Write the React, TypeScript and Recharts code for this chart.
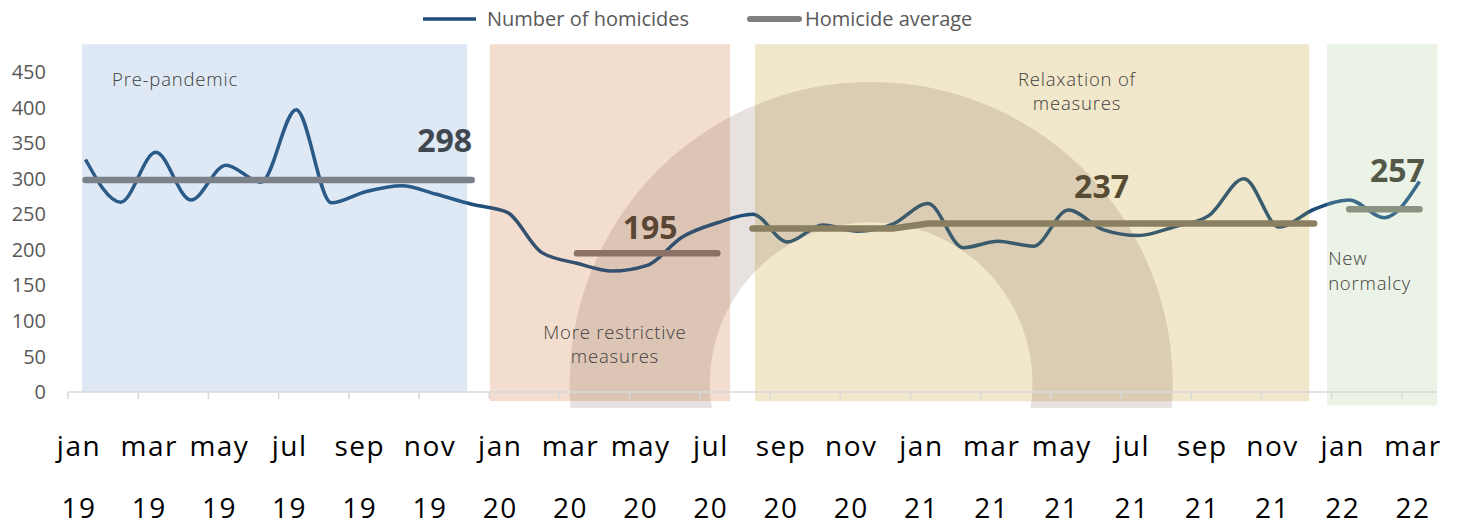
import React from "react";
import { LineChart, Line, XAxis, YAxis, ReferenceArea } from "recharts";

const months = [
  "jan 19", "feb 19", "mar 19", "apr 19", "may 19", "jun 19", "jul 19", "aug 19", "sep 19", "oct 19", "nov 19", "dec 19",
  "jan 20", "feb 20", "mar 20", "apr 20", "may 20", "jun 20", "jul 20", "aug 20", "sep 20", "oct 20", "nov 20", "dec 20",
  "jan 21", "feb 21", "mar 21", "apr 21", "may 21", "jun 21", "jul 21", "aug 21", "sep 21", "oct 21", "nov 21", "dec 21",
  "jan 22", "feb 22", "mar 22",
];

const homicides = [
  327, 267, 337, 270, 319, 295, 397, 266, 282, 290, 278, 264,
  253, 196, 181, 170, 178, 218, 238, 250, 211, 235, 226, 236,
  265, 203, 212, 205, 256, 228, 220, 232, 248, 300, 232, 257,
  270, 245, 296,
];

// homicide averages per period, with the month index where each starts
const avgPrePandemic = [298, 298, 298, 298, 298, 298, 298, 298, 298, 298, 298, 298];
const avgPrePandemicStart = 0;
const avgRestrictive = [195, 195, 195, 195, 195];
const avgRestrictiveStart = 14;
const avgRelaxation = [230, 230, 230, 230, 230, 237, 237, 237, 237, 237, 237, 237, 237, 237, 237, 237, 237];
const avgRelaxationStart = 19;
const avgNewNormal = [257, 257, 257];
const avgNewNormalStart = 36;

const yTicks = [0, 50, 100, 150, 200, 250, 300, 350, 400, 450];

// shaded periods, in month-index units
const bands = [
  { key: "pre", from: -0.1, to: 10.87, bottom: 0, fill: "#dee9f5", stroke: "#295a88" },
  { key: "restrictive", from: 11.52, to: 18.36, bottom: -12.7, fill: "#f3ddce", stroke: "#33506f" },
  { key: "relax", from: 19.07, to: 34.86, bottom: -13, fill: "#f1e7ca", stroke: "#3a5b6b" },
  { key: "new", from: 35.37, to: 38.51, bottom: -19, fill: "#ebf3e6", stroke: "#3b6a8b" },
];
const bandTop = 489;

const withOffset = (arr: number[], start: number, i: number) =>
  i >= start && i < start + arr.length ? arr[i - start] : null;

const data = months.map((m, i) => ({
  idx: i,
  month: m,
  homicides: homicides[i],
  avgPre: withOffset(avgPrePandemic, avgPrePandemicStart, i),
  avgRestr: withOffset(avgRestrictive, avgRestrictiveStart, i),
  avgRelax: withOffset(avgRelaxation, avgRelaxationStart, i),
  avgNew: withOffset(avgNewNormal, avgNewNormalStart, i),
}));

const xTicks = months.map((_, i) => i).filter((i) => i % 2 === 0).map((i) => i - 0.5);

const lastIdx = months.length - 1;

const MonthTick = (props: any) => {
  const { x, y, payload } = props;
  const label = months[Math.round(payload.value + 0.5)] || "";
  const [mon, yr] = label.split(" ");
  const style = { fontFamily: '"Open Sans", sans-serif', fontSize: 28, letterSpacing: 1.5 };
  return (
    <g>
      <text x={x + 11} y={y + 57} textAnchor="middle" fill="#000" style={style}>
        {mon}
      </text>
      <text x={x + 11} y={y + 119} textAnchor="middle" fill="#000" style={style}>
        {yr}
      </text>
    </g>
  );
};

const avgLabel = (at: number, text: string, color: string, dx: number, dy: number) => (props: any) => {
  if (props.index !== at) return null;
  return (
    <text
      key={"lbl" + at}
      x={props.x + dx}
      y={props.y + dy}
      textAnchor="middle"
      fill={color}
      style={{ fontFamily: '"Open Sans", sans-serif', fontSize: 32, fontWeight: 700 }}
    >
      {text}
    </text>
  );
};

const bandText: Record<string, { lines: string[]; anchor: string; dx: number; dy: number[] }> = {
  pre: { lines: ["Pre-pandemic"], anchor: "start", dx: 30, dy: [42] },
  restrictive: { lines: ["More restrictive", "measures"], anchor: "middle", dx: 125, dy: [295, 319] },
  relax: { lines: ["Relaxation of", "measures"], anchor: "middle", dx: 322, dy: [42, 66] },
  new: { lines: ["New", "normalcy"], anchor: "start", dx: 1, dy: [221, 246] },
};

// decorative half ring behind the series
const RingShape = (p: any) => {
  const { x, y, width, height } = p;
  const R = width / 2;
  const r = R * 0.535;
  const cx = x + R;
  const cy = y + R;
  const bottom = y + height;
  const d = bottom - cy;
  const ox = Math.sqrt(Math.max(R * R - d * d, 0));
  const ix = Math.sqrt(Math.max(r * r - d * d, 0));
  const path = `M ${cx - ox} ${bottom} A ${R} ${R} 0 1 1 ${cx + ox} ${bottom} L ${cx + ix} ${bottom} A ${r} ${r} 0 1 0 ${cx - ix} ${bottom} Z`;
  return <path d={path} fill="#7a5a50" fillOpacity={0.18} />;
};

export default function App() {
  return (
    <div style={{ position: "relative", width: 1457, height: 517, fontFamily: '"Open Sans", sans-serif' }}>
      <LineChart width={1457} height={517} data={data} margin={{ top: 64, right: 28, bottom: 0, left: 0 }}>
        <defs>
          <linearGradient id="homicideStroke" x1="0" y1="0" x2="1" y2="0">
            {bands.flatMap((b, k) => {
              const prevEnd = k === 0 ? 0 : bands[k - 1].to / lastIdx;
              const s = Math.max(b.from / lastIdx, 0);
              const e = Math.min(b.to / lastIdx, 1);
              return [
                <stop key={b.key + "g0"} offset={prevEnd} stopColor="#1f4e79" />,
                <stop key={b.key + "g1"} offset={s} stopColor="#1f4e79" />,
                <stop key={b.key + "s"} offset={s} stopColor={b.stroke} />,
                <stop key={b.key + "e"} offset={e} stopColor={b.stroke} />,
              ];
            })}
          </linearGradient>
        </defs>
        {bands.map((b) => (
          <ReferenceArea
            key={b.key}
            x1={b.from}
            x2={b.to}
            y1={b.bottom}
            y2={bandTop}
            ifOverflow="visible"
            shape={(p: any) => <rect x={p.x} y={p.y} width={p.width} height={p.height} fill={b.fill} />}
          />
        ))}
        <ReferenceArea x1={13.79} x2={30.97} y1={-22.5} y2={436} ifOverflow="visible" shape={RingShape} />
        {bands.map((b) => (
          <ReferenceArea
            key={b.key + "-txt"}
            x1={b.from}
            x2={b.to}
            y1={b.bottom}
            y2={bandTop}
            ifOverflow="visible"
            shape={(p: any) => {
              const t = bandText[b.key];
              return (
                <g>
                  {t.lines.map((ln, j) => (
                    <text
                      key={j}
                      x={p.x + t.dx}
                      y={p.y + t.dy[j]}
                      textAnchor={t.anchor as any}
                      fill="#404040"
                      style={{ fontFamily: '"Open Sans", sans-serif', fontSize: 18.5, fontWeight: 300, letterSpacing: 0.8 }}
                    >
                      {ln}
                    </text>
                  ))}
                </g>
              );
            }}
          />
        ))}
        <XAxis
          type="number"
          dataKey="idx"
          domain={[-0.5, lastIdx + 0.5]}
          ticks={xTicks}
          interval={0}
          tick={<MonthTick />}
          tickSize={7}
          tickMargin={0}
          tickLine={{ stroke: "#d9d9d9", strokeWidth: 1.5 }}
          axisLine={{ stroke: "#d9d9d9", strokeWidth: 1.5 }}
          height={133}
        />
        <YAxis
          domain={[0, 450]}
          ticks={yTicks}
          axisLine={false}
          tickLine={false}
          tickSize={0}
          tickMargin={22}
          width={60}
          tick={{ fill: "#595959", fontSize: 20, fontFamily: '"Open Sans", sans-serif' }}
        />
        <Line
          dataKey="homicides"
          type="monotone"
          stroke="url(#homicideStroke)"
          strokeWidth={3.5}
          dot={false}
          activeDot={false}
          isAnimationActive={false}
        />
        <Line
          dataKey="avgPre"
          type="linear"
          stroke="#7b8189"
          strokeWidth={6.5}
          strokeLinecap="round"
          dot={false}
          activeDot={false}
          isAnimationActive={false}
          label={avgLabel(10, "298", "#40474f", 8, -28)}
        />
        <Line
          dataKey="avgRestr"
          type="linear"
          stroke="#8a7366"
          strokeWidth={6.5}
          strokeLinecap="round"
          dot={false}
          activeDot={false}
          isAnimationActive={false}
          label={avgLabel(16, "195", "#5b4636", 3, -14)}
        />
        <Line
          dataKey="avgRelax"
          type="linear"
          stroke="#8b7f62"
          strokeWidth={6.5}
          strokeLinecap="round"
          dot={false}
          activeDot={false}
          isAnimationActive={false}
          label={avgLabel(29, "237", "#574c33", -2, -25)}
        />
        <Line
          dataKey="avgNew"
          type="linear"
          stroke="#8a9282"
          strokeWidth={6.5}
          strokeLinecap="round"
          dot={false}
          activeDot={false}
          isAnimationActive={false}
          label={avgLabel(37, "257", "#535946", 13, -27)}
        />
      </LineChart>
      <svg width={1457} height={44} style={{ position: "absolute", left: 0, top: 0, pointerEvents: "none", overflow: "visible" }}>
        <line x1={415} x2={468} y1={11} y2={11} stroke="#1f4e79" strokeWidth={3.5} />
        <text x={479} y={18} fill="#595959" style={{ fontFamily: '"Open Sans", sans-serif', fontSize: 20 }}>
          Number of homicides
        </text>
        <line x1={742} x2={791} y1={11} y2={11} stroke="#7f7f7f" strokeWidth={6} strokeLinecap="round" />
        <text x={797} y={18} fill="#595959" style={{ fontFamily: '"Open Sans", sans-serif', fontSize: 20 }}>
          Homicide average
        </text>
      </svg>
    </div>
  );
}
